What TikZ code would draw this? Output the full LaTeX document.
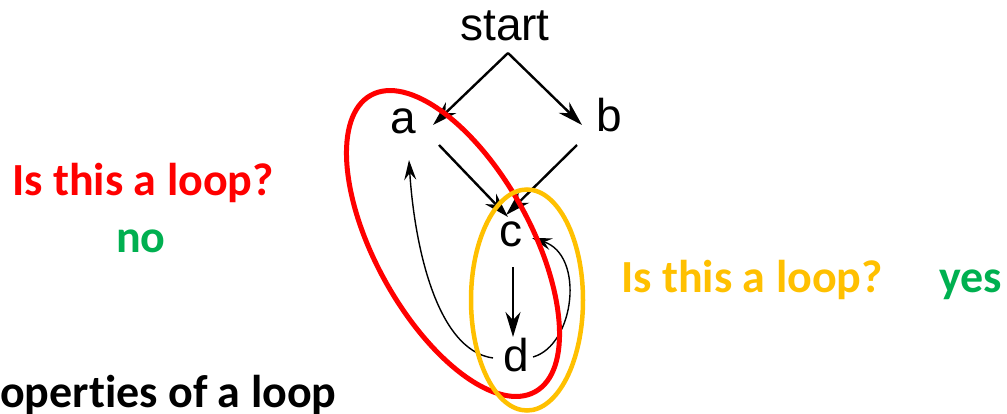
\documentclass[tikz,border=0pt]{standalone}
\usepackage{fontspec}
\setmainfont{Liberation Sans}
\newfontfamily\calfont[Ligatures={NoCommon}]{Carlito}
\usetikzlibrary{arrows.meta}
\definecolor{qred}{HTML}{FF0000}
\definecolor{qyellow}{HTML}{FFC000}
\definecolor{qgreen}{HTML}{00B050}
\tikzset{
  lbl/.style={anchor=base, inner sep=0pt, font=\fontsize{46}{50}\selectfont},
  txt/.style={inner sep=0pt, font=\calfont\bfseries\fontsize{46}{50}\selectfont},
  arr/.style={line width=2.4pt, -{Stealth[length=25pt,width=15pt,inset=8pt]}},
  thinarr/.style={line width=1.4pt, -{Stealth[length=20pt,width=12pt,inset=7pt]}},
  redloop/.style={draw=qred, line width=5pt},
  yelloop/.style={draw=qyellow, line width=4.5pt}
}
\begin{document}
\begin{tikzpicture}[x=1pt,y=-1pt]
\useasboundingbox (0,0) rectangle (1007,413);
% graph labels
\node[lbl] (start) at (505,40) {start};
\node[lbl] (a) at (403,133) {a};
\node[lbl] (b) at (609,131) {b};
\node[lbl] (c) at (511,246) {c};
\node[lbl] (d) at (516,371) {d};
% edges
\draw[arr] ([shift={(3,13)}]start.base) -- ([shift={(30,-8)}]a.base);
\draw[arr] ([shift={(3,13)}]start.base) -- ([shift={(-27,-6)}]b.base);
\draw[arr] ([shift={(36,12)}]a.base) -- ([shift={(-3,-29)}]c.base);
\draw[arr] ([shift={(-32,14)}]b.base) -- ([shift={(-5,-31)}]c.base);
\draw[arr] ([shift={(2,21)}]c.base) -- ([shift={(-3,-34)}]d.base);
\draw[thinarr] ([shift={(-23,-13)}]d.base) .. controls (435,350) and (414,240) .. ([shift={(6,27)}]a.base);
\draw[thinarr] ([shift={(17,-14)}]d.base) .. controls (575,345) and (585,255) .. ([shift={(21,-8)}]c.base);
% loops
\draw[redloop, rotate around={-61:(453,243.5)}] (453,243.5) ellipse [x radius=169.5, y radius=77.5];
\draw[yelloop] (527,300) ellipse [x radius=56, y radius=110.5];
% texts
\node[txt, anchor=base west, text=qred] (q1) at (12,195) {Is this a loop?};
\node[txt, anchor=base, text=qgreen] (no) at (141,252) {no};
\node[txt, anchor=base west, text=qyellow] (q2) at (621,292) {Is this a loop?};
\node[txt, anchor=base west, text=qgreen] (yes) at (939,292) {yes};
\node[txt, anchor=base west, text=black] (props) at (0,407) {operties of a loop};
\end{tikzpicture}
\end{document}
